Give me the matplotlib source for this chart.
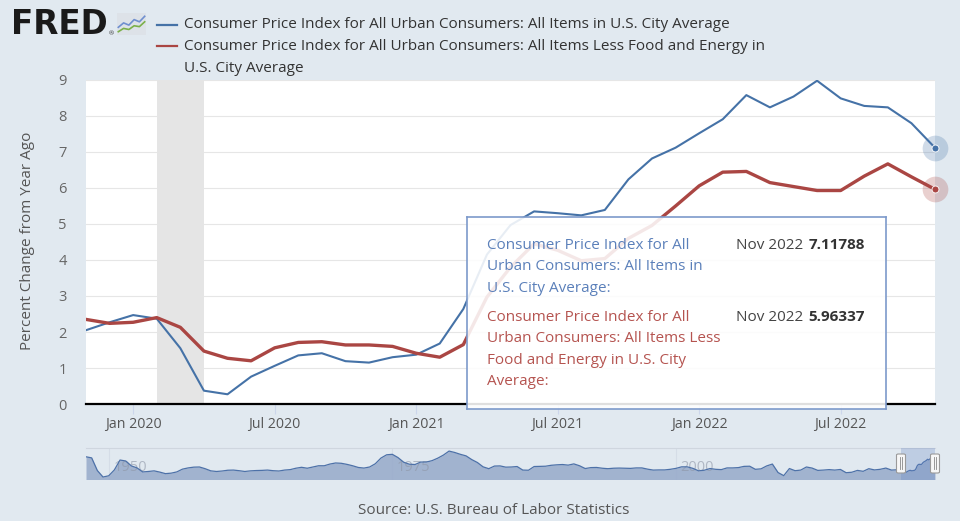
"""
FRED style chart: CPI all items vs. core CPI, percent change from year ago
"""

import matplotlib
matplotlib.use("Agg")
from matplotlib import pyplot as plt
from matplotlib.patches import FancyBboxPatch
from matplotlib.lines import Line2D
import numpy as np

plt.rcParams['font.family'] = ['Open Sans', 'DejaVu Sans']

W, H = 960, 521
BG = '#e1e9f0'
BLUE = '#4572a7'
RED = '#aa4643'

# monthly observations, Nov 2019 .. Nov 2022
cpi_all = [2.05, 2.27, 2.47, 2.37, 1.55, 0.37, 0.27, 0.76, 1.06, 1.35,
           1.41, 1.19, 1.15, 1.30, 1.37, 1.68, 2.64, 4.15, 4.97, 5.35,
           5.30, 5.24, 5.39, 6.24, 6.82, 7.12, 7.52, 7.91, 8.58, 8.24,
           8.54, 8.98, 8.49, 8.28, 8.24, 7.80, 7.11788]
cpi_core = [2.35, 2.24, 2.27, 2.40, 2.13, 1.47, 1.27, 1.20, 1.56, 1.71,
            1.73, 1.64, 1.64, 1.60, 1.41, 1.30, 1.65, 2.97, 3.80, 4.45,
            4.27, 3.98, 4.04, 4.60, 4.96, 5.50, 6.06, 6.44, 6.46, 6.15,
            6.04, 5.93, 5.93, 6.33, 6.67, 6.31, 5.96337]
first_month = 2019 + 10 / 12.0  # Nov 2019

tick_pos = [2, 8, 14, 20, 26, 32]
tick_labels = ['Jan 2020', 'Jul 2020', 'Jan 2021', 'Jul 2021',
               'Jan 2022', 'Jul 2022']
recession = (3, 5)  # Feb 2020 - Apr 2020

# navigator: CPI all items, half-yearly from Jan 1948 to Jul 2019
nav_start = 1948
nav_values = [10.2, 9.5, 1.3, -2.9, -2.1, 1.7, 8.1, 7.5, 4.3, 3.0,
              0.4, 0.7, 1.1, 0.3, -0.7, -0.4, 0.4, 2.2, 3.0, 3.5,
              3.6, 2.5, 1.1, 0.7, 1.0, 1.5, 1.6, 1.2, 0.7, 1.1,
              1.3, 1.4, 1.6, 1.2, 1.0, 1.6, 1.9, 2.8, 3.4, 2.8,
              3.6, 4.4, 4.4, 5.5, 6.2, 6.0, 5.3, 4.4, 3.3, 2.9,
              3.6, 5.7, 9.4, 11.5, 11.8, 9.7, 6.7, 5.4, 5.2, 6.8,
              6.8, 7.7, 9.3, 11.3, 13.9, 13.0, 11.8, 10.8, 8.4, 6.5,
              3.7, 2.5, 4.2, 4.3, 3.5, 3.6, 3.9, 1.6, 1.5, 3.9,
              4.0, 4.1, 4.7, 5.0, 5.2, 4.8, 5.6, 4.4, 2.6, 3.2,
              3.3, 2.8, 2.5, 2.8, 2.9, 2.8, 2.7, 3.0, 3.0, 2.2,
              1.6, 1.7, 1.7, 2.1, 2.7, 3.7, 3.7, 2.7, 1.1, 1.5,
              2.6, 2.1, 1.9, 3.0, 3.0, 3.2, 4.0, 4.1, 2.1, 2.4,
              4.3, 5.5, 0.0, -2.0, 2.6, 1.2, 1.6, 3.6, 2.9, 1.4,
              1.6, 1.9, 1.6, 2.0, -0.1, 0.2, 1.4, 0.8, 2.5, 1.7,
              2.1, 2.9, 1.6, 1.8]
nav_ticks = [1950, 1975, 2000]

legend_names = ['Consumer Price Index for All Urban Consumers: All Items in U.S. City Average',
                'Consumer Price Index for All Urban Consumers: All Items Less Food and Energy in\nU.S. City Average']
tip_blue = ['Consumer Price Index for All', 'Urban Consumers: All Items in',
            'U.S. City Average:']
tip_red = ['Consumer Price Index for All', 'Urban Consumers: All Items Less',
           'Food and Energy in U.S. City', 'Average:']
tip_date = 'Nov 2022'

icon_blue = [0.35, 0.55, 0.45, 0.7, 0.6, 0.85]
icon_green = [0.15, 0.3, 0.25, 0.42, 0.38, 0.6]


def fx(px):
    return px / W


def fy(py):
    return 1 - py / H


fig = plt.figure(figsize=(W / 100, H / 100), dpi=100, facecolor=BG)

# ---- main plot
ax = fig.add_axes([fx(86), fy(404), 849 / W, 324 / H])
ax.set_facecolor('white')
x = np.arange(len(cpi_all))
ax.set_xlim(0, len(cpi_all) - 1)
ax.set_ylim(0, 9)
for side in ['top', 'right', 'left']:
    ax.spines[side].set_visible(False)
ax.spines['bottom'].set_color('black')
ax.spines['bottom'].set_linewidth(1.6)
ax.spines['bottom'].set_zorder(6)
ax.set_axisbelow(True)
ax.grid(axis='y', color='#e6e6e6', linewidth=0.8)
ax.set_yticks(range(10))
ax.tick_params(axis='y', length=0, pad=14, labelsize=10.5, labelcolor='#666666')
ax.set_xticks(tick_pos)
ax.set_xticklabels(tick_labels)
ax.tick_params(axis='x', length=7, width=0.8, color='#ccd6eb', pad=2.5,
               labelsize=10.2, labelcolor='#555555')

ax.axvspan(recession[0], recession[1], color='#e5e5e5', zorder=1, linewidth=0)
ax.plot(x, cpi_all, color=BLUE, lw=1.5, zorder=3, solid_joinstyle='round')
ax.plot(x, cpi_core, color=RED, lw=2.4, zorder=3, solid_joinstyle='round')
for series, col in [(cpi_all, BLUE), (cpi_core, RED)]:
    ax.plot(x[-1], series[-1], 'o', ms=18.5, color=col, alpha=0.25, mec='none',
            clip_on=False, zorder=4)
    ax.plot(x[-1], series[-1], 'o', ms=5, color=col, mec='white', mew=0.6,
            clip_on=False, zorder=5)

fig.text(fx(28), fy(241), 'Percent Change from Year Ago', rotation=90,
         ha='center', va='center', fontsize=11, color='#555555')

# ---- tooltip: its own axes laid over the plot, half transparent
tip = fig.add_axes([fx(467), fy(409), (886 - 467) / W, (409 - 217) / H],
                   zorder=5)
tip.patch.set_facecolor((1, 1, 1, 0.88))
tip.set_xlim(467, 886)
tip.set_ylim(409, 217)
tip.set_xticks([])
tip.set_yticks([])
for s in tip.spines.values():
    s.set_color('#7d9acb')
    s.set_linewidth(1.2)
for i, line in enumerate(tip_blue):
    tip.text(487, 245 + 21.7 * i, line, fontsize=11, color='#5b80ba',
             ha='left', va='center')
for i, line in enumerate(tip_red):
    tip.text(487, 317 + 21.5 * i, line, fontsize=11, color='#b55450',
             ha='left', va='center')
for yy, series in [(245, cpi_all), (317, cpi_core)]:
    tip.text(803, yy, tip_date, fontsize=11, color='#444444',
             ha='right', va='center')
    tip.text(865, yy, '%.5f' % series[-1], fontsize=11, fontweight='bold',
             color='#333333', ha='right', va='center')

# ---- header: logo and legend
fig.text(fx(11), fy(24.5), 'FRED', fontsize=23.5, fontweight='bold',
         family='DejaVu Sans', color='#1a1a1a', ha='left', va='center')
fig.text(fx(108.5), fy(34), '®', fontsize=4.5, color='#333333', ha='left',
         va='center')
icon = fig.add_axes([fx(117), fy(35), 29 / W, 22 / H])
icon.set_facecolor('#dde2e8')
icon.plot(icon_blue, color='#6f8fcf', lw=1.2)
icon.plot(icon_green, color='#7bb04a', lw=1.2)
icon.set_ylim(0, 1)
icon.set_xticks([])
icon.set_yticks([])
for s in icon.spines.values():
    s.set_visible(False)

for yy, col in [(24.5, BLUE), (45.7, RED)]:
    fig.add_artist(Line2D([fx(157), fx(177)], [fy(yy), fy(yy)], color=col,
                          lw=1.6))
fig.text(fx(184), fy(25), legend_names[0], fontsize=11, color='#333333',
         ha='left', va='center')
for i, line in enumerate(legend_names[1].split('\n')):
    fig.text(fx(184), fy(46 + 22 * i), line, fontsize=11, color='#333333',
             ha='left', va='center')

# ---- navigator
nav = fig.add_axes([fx(86), fy(479.5), 849 / W, 31.5 / H])
nav.patch.set_alpha(0)
nav_x = list(nav_start + 0.5 * np.arange(len(nav_values)))
nav_x += list(first_month + x / 12.0)
nav_y = list(nav_values) + list(cpi_all)
x_end = nav_x[-1]
nav.set_xlim(nav_start, x_end)
nav.set_ylim(-4.5, 15.9)
for yr in nav_ticks:
    nav.axvline(yr, color='#d5dde7', lw=0.8, zorder=0)
    nav.text(yr + 0.4, 3.5, str(yr), fontsize=10.5, color='#8e96a6', alpha=0.6,
             ha='left', va='center', zorder=3)
nav.fill_between(nav_x, nav_y, -4.5, color='#9aadcc', alpha=0.9, lw=0, zorder=2)
nav.plot(nav_x, nav_y, color='#4d71a8', lw=0.9, zorder=3)
nav.axvspan(first_month, x_end, color='#6685c2', alpha=0.28, lw=0, zorder=4)
nav.set_xticks([])
nav.set_yticks([])
for side in ['bottom', 'left', 'right']:
    nav.spines[side].set_visible(False)
nav.spines['top'].set_color('#cfd6df')
nav.spines['top'].set_linewidth(0.8)

for hx in [901, 935]:
    fig.add_artist(FancyBboxPatch((fx(hx - 4.5), fy(473)), 9 / W, 19 / H,
                                  boxstyle='round,pad=0,rounding_size=0.002',
                                  transform=fig.transFigure,
                                  facecolor='#f7f7f7', edgecolor='#9a9a9a',
                                  linewidth=0.8, zorder=5))
    for gx in [hx - 1.2, hx + 1.2]:
        fig.add_artist(Line2D([fx(gx), fx(gx)], [fy(457), fy(469)],
                              color='#888888', lw=0.6, zorder=6))

fig.text(fx(494), fy(511), 'Source: U.S. Bureau of Labor Statistics',
         fontsize=11, color='#555555', ha='center', va='center')

plt.savefig('out.png', dpi=100, facecolor=BG)
